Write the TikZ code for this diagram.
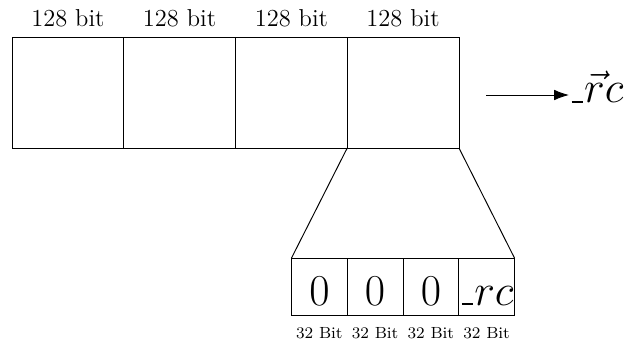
\documentclass[tikz,border=0pt]{standalone}
\usetikzlibrary{arrows.meta}
% short underscore, drawn as a rule
\newcommand\shortbar{\leavevmode\kern.05em\vbox{\hrule width .26em height .04em}\kern.02em}
\begin{document}
\begin{tikzpicture}[x=0.47pt,y=-0.47pt,
  cellline/.style={line width=0.45pt},
  bigcell/.style={draw,cellline,minimum width=111.75*0.47pt,minimum height=111*0.47pt,inner sep=0pt,outer sep=0pt},
  smallcell/.style={draw,cellline,minimum width=55.75*0.47pt,minimum height=57*0.47pt,inner sep=0pt,outer sep=0pt},
  celltext/.style={anchor=base,font=\fontsize{21}{25}\selectfont,inner sep=0pt},
  toplabel/.style={anchor=base,font=\fontsize{11.5}{14}\selectfont},
  botlabel/.style={anchor=base,font=\fontsize{7.6}{9}\selectfont}]
\useasboundingbox (0,0) rectangle (626,347);
% 512-bit block made of four 128-bit words
\node[bigcell] (w1) at (67.9,92.5) {};
\node[bigcell] (w2) at (179.6,92.5) {};
\node[bigcell] (w3) at (291.4,92.5) {};
\node[bigcell] (w4) at (403.1,92.5) {};
\foreach \n in {w1,w2,w3,w4}
  \node[toplabel] at ([yshift=4.7pt]\n.north) {128 bit};
% expansion of the last word into four 32-bit parts
\node[smallcell] (s1) at (319.4,286.5) {};
\node[smallcell] (s2) at (375.1,286.5) {};
\node[smallcell] (s3) at (430.9,286.5) {};
\node[smallcell] (s4) at (486.6,286.5) {};
\foreach \n in {s1,s2,s3}
  \node[celltext] at ([yshift=-8.8pt]\n.center) {$0$};
\node[celltext] at ([yshift=-8.8pt]s4.center) {\shortbar$rc$};
\foreach \n in {s1,s2,s3,s4}
  \node[botlabel] at ([yshift=-11.2pt]\n.south) {32 Bit};
\draw[cellline] (w4.south west) -- (s1.north west);
\draw[cellline] (w4.south east) -- (s4.north east);
% output vector
\node[font=\fontsize{21}{25}\selectfont,inner sep=0pt,anchor=base west] (rc) at (569,103) {\shortbar$\vec{r}c$};
\coordinate (start) at (486,95);
\draw[cellline,-{Latex[length=7pt,width=5pt]}] (start) -- (start -| rc.west);
\end{tikzpicture}
\end{document}
